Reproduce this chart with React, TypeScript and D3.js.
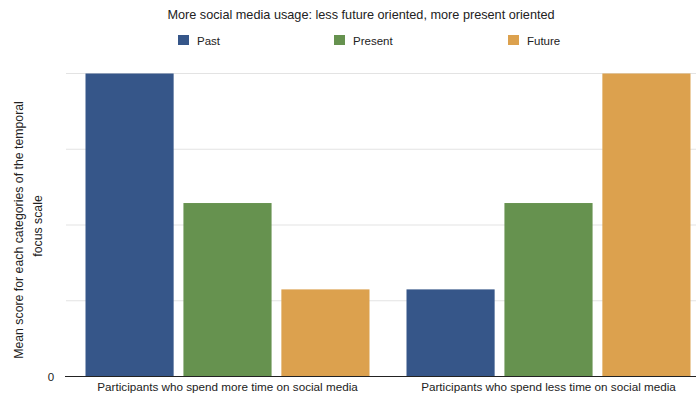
import React from "react";
import * as d3 from "d3";

const title = "More social media usage: less future oriented, more present oriented";
const categories = [
  "Participants who spend more time on social media",
  "Participants who spend less time on social media",
];
const seriesNames = ["Past", "Present", "Future"];
const seriesColors = ["#365689", "#66924f", "#dca14e"];
const pastValues = [4, 1.15];
const presentValues = [2.29, 2.29];
const futureValues = [1.15, 4];
const yTicks = [0, 1, 2, 3, 4];
const yTickLabels = ["0", "", "", "", ""];
const yLabelLines = ["Mean score for each categories of the temporal", "focus scale"];

const W = 696;
const H = 396;
const FONT = "'Liberation Sans', Arial, Helvetica, sans-serif";

export default function App() {
  const seriesValues = [pastValues, presentValues, futureValues];
  const x0 = d3.scaleBand<string>().domain(categories).range([67, 709]).paddingInner(0).paddingOuter(0);
  const inner = 18.5;
  const x1 = d3
    .scaleBand<string>()
    .domain(seriesNames)
    .range([inner, x0.bandwidth() - inner])
    .paddingInner(0.1)
    .paddingOuter(0);
  const y = d3.scaleLinear().domain([0, 4]).range([376.5, 73.5]);

  const legendX = [178, 334, 508];

  return (
    <svg
      width={W}
      height={H}
      style={{ position: "absolute", left: 0, top: 0, background: "#fff" }}
      fontFamily={FONT}
    >
      <rect x={0} y={0} width={W} height={H} fill="#fff" />
      <text x={361} y={19} textAnchor="middle" fontSize={12.7} fill="#222">
        {title}
      </text>
      {seriesNames.map((s, i) => (
        <g key={s}>
          <rect x={legendX[i]} y={35} width={11} height={10} fill={seriesColors[i]} />
          <text x={legendX[i] + 19} y={44.5} fontSize={11.5} fill="#222">
            {s}
          </text>
        </g>
      ))}
      {yTicks.map((t, i) => (
        <g key={t}>
          {t !== 0 && (
            <line x1={66} x2={W} y1={y(t)} y2={y(t)} stroke="#e3e3e3" strokeWidth={1} />
          )}
          {yTickLabels[i] && (
            <text x={51} y={y(t) + 4} textAnchor="middle" fontSize={11.5} fill="#222">
              {yTickLabels[i]}
            </text>
          )}
        </g>
      ))}
      {categories.map((c, ci) => (
        <g key={c} transform={`translate(${x0(c)},0)`}>
          {seriesNames.map((s, si) => {
            const v = seriesValues[si][ci];
            return (
              <rect
                key={s}
                x={x1(s)}
                y={y(v)}
                width={x1.bandwidth()}
                height={y(0) - y(v)}
                fill={seriesColors[si]}
              />
            );
          })}
        </g>
      ))}
      <line x1={65} x2={W} y1={y(0)} y2={y(0)} stroke="#222" strokeWidth={1} />
      {categories.map((c) => (
        <text
          key={c}
          x={(x0(c) as number) + x0.bandwidth() / 2}
          y={391}
          textAnchor="middle"
          fontSize={11.7}
          fill="#222"
        >
          {c}
        </text>
      ))}
      <text transform="translate(23,230) rotate(-90)" textAnchor="middle" fontSize={12.3} fill="#222">
        {yLabelLines[0]}
      </text>
      <text transform="translate(42,226) rotate(-90)" textAnchor="middle" fontSize={12.3} fill="#222">
        {yLabelLines[1]}
      </text>
    </svg>
  );
}
